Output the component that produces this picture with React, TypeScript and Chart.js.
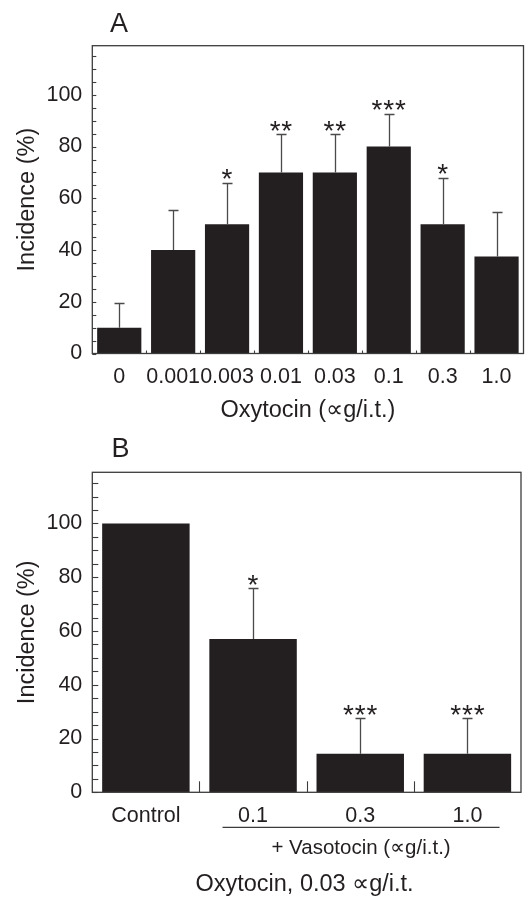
import React, { useEffect, useRef } from 'react';
import { Chart, registerables } from 'chart.js';

Chart.register(...registerables);

// ---- Data ----
const doseLabelsA = ['0', '0.001', '0.003', '0.01', '0.03', '0.1', '0.3', '1.0'];
const incidenceA = [10, 40, 50, 70, 70, 80, 50, 37.5];
const errorA = [9.5, 15.6, 16, 14.7, 14.7, 12.7, 17.9, 17.1];
const starsA = ['', '', '*', '**', '**', '***', '*', ''];

const groupLabelsB = ['Control', '0.1', '0.3', '1.0'];
const incidenceB = [100, 57, 14.3, 14.3];
const errorB = [0, 18.8, 13.3, 13.3];
const starsB = ['', '*', '***', '***'];

const yMax = 119;
const yMinorStep = 5;
const yLabelStep = 20;

const FONT = '"Liberation Sans", Arial, Helvetica, sans-serif';
const INK = '#231f20';
const LINE = '#3c3c3c';
const TICK_SIZE = 21.5;
const TITLE_SIZE = 23.5;

type DecorOpts = {
  letter: string;
  letterX: number;
  letterBase: number;
  errors: number[];
  stars: string[];
  yTickLen: number;
  xTickLen: number;
  extra?: (ctx: CanvasRenderingContext2D, chart: any) => void;
};

function makeDecor(o: DecorOpts) {
  return {
    id: 'decor',
    afterDatasetsDraw(chart: any) {
      const ctx: CanvasRenderingContext2D = chart.ctx;
      const { left, right, top, bottom } = chart.chartArea;
      const xs = chart.scales.x;
      const ys = chart.scales.y;
      const values: number[] = chart.data.datasets[0].data;
      ctx.save();
      // frame
      ctx.strokeStyle = LINE;
      ctx.lineWidth = 1.3;
      ctx.strokeRect(left, top, right - left, bottom - top);
      // y minor ticks (inward)
      ctx.lineWidth = 1.1;
      for (let v = 0; v <= yMax; v += yMinorStep) {
        const y = Math.round(ys.getPixelForValue(v)) + 0.5;
        ctx.beginPath();
        ctx.moveTo(left, y);
        ctx.lineTo(left + o.yTickLen, y);
        ctx.stroke();
      }
      // x ticks at category boundaries (upward)
      for (let i = 0; i < values.length - 1; i++) {
        const x = Math.round((xs.getPixelForValue(i) + xs.getPixelForValue(i + 1)) / 2) + 0.5;
        ctx.beginPath();
        ctx.moveTo(x, bottom);
        ctx.lineTo(x, bottom - o.xTickLen);
        ctx.stroke();
      }
      // error bars
      ctx.strokeStyle = '#4a4a4a';
      ctx.lineWidth = 1.3;
      values.forEach((v, i) => {
        const e = o.errors[i];
        if (!e) return;
        const x = Math.round(xs.getPixelForValue(i)) + 0.5;
        const y0 = ys.getPixelForValue(v);
        const y1 = Math.round(ys.getPixelForValue(v + e)) + 0.5;
        ctx.beginPath();
        ctx.moveTo(x, y0);
        ctx.lineTo(x, y1);
        ctx.moveTo(x - 5, y1);
        ctx.lineTo(x + 5, y1);
        ctx.stroke();
      });
      // significance stars
      ctx.fillStyle = INK;
      ctx.font = `28px ${FONT}`;
      ctx.textAlign = 'center';
      ctx.textBaseline = 'alphabetic';
      values.forEach((v, i) => {
        const s = o.stars[i];
        if (!s) return;
        const x = xs.getPixelForValue(i);
        const capY = ys.getPixelForValue(v + (o.errors[i] || 0));
        const m = ctx.measureText('*');
        const asc = m.actualBoundingBoxAscent;
        const desc = m.actualBoundingBoxDescent;
        const center = capY - 8.5;
        const base = center + (asc - desc) / 2;
        const step = 11.7;
        const n = s.length;
        for (let k = 0; k < n; k++) {
          ctx.fillText('*', x + (k - (n - 1) / 2) * step, base);
        }
      });
      // panel letter
      ctx.font = `27px ${FONT}`;
      ctx.textAlign = 'left';
      ctx.fillText(o.letter, o.letterX, o.letterBase);
      if (o.extra) o.extra(ctx, chart);
      ctx.restore();
    },
  };
}

function yScaleOpts(width: number) {
  return {
    min: 0,
    max: yMax,
    grid: { display: false, drawTicks: false },
    border: { display: false },
    ticks: {
      stepSize: yMinorStep,
      autoSkip: false,
      padding: 10,
      color: INK,
      font: { size: TICK_SIZE, family: FONT },
      callback: (v: any) => (Number(v) % yLabelStep === 0 ? String(v) : ''),
    },
    title: {
      display: true,
      text: 'Incidence (%)',
      color: INK,
      font: { size: TITLE_SIZE, family: FONT },
      padding: { top: 13.5, bottom: 0 },
    },
    afterFit: (s: any) => {
      s.width = width;
    },
  };
}

function ChartA() {
  const ref = useRef<HTMLCanvasElement | null>(null);
  useEffect(() => {
    if (!ref.current) return;
    const chart = new Chart(ref.current, {
      type: 'bar',
      data: {
        labels: doseLabelsA,
        datasets: [
          {
            data: incidenceA,
            backgroundColor: INK,
            borderWidth: 0,
            barPercentage: 0.82,
            categoryPercentage: 1,
          },
        ],
      },
      options: {
        responsive: false,
        animation: false,
        events: [],
        layout: { padding: { left: 0, right: 3.5, top: 45.7, bottom: 0 } },
        plugins: { legend: { display: false }, tooltip: { enabled: false } },
        scales: {
          x: {
            grid: { display: false, drawTicks: false },
            border: { display: false },
            ticks: {
              autoSkip: false,
              maxRotation: 0,
              padding: 10.6,
              color: INK,
              font: { size: TICK_SIZE, family: FONT },
            },
            title: {
              display: true,
              text: 'Oxytocin (∝g/i.t.)',
              color: INK,
              font: { size: TITLE_SIZE, family: FONT },
              padding: { top: 0, bottom: 5 },
            },
            afterFit: (s: any) => {
              s.height = 76.5;
            },
          },
          y: yScaleOpts(92.3) as any,
        },
      },
      plugins: [
        makeDecor({
          letter: 'A',
          letterX: 110,
          letterBase: 32.3,
          errors: errorA,
          stars: starsA,
          yTickLen: 4,
          xTickLen: 3,
        }),
      ],
    } as any);
    return () => chart.destroy();
  }, []);
  return <canvas ref={ref} width={527} height={430} style={{ display: 'block' }} />;
}

function ChartB() {
  const ref = useRef<HTMLCanvasElement | null>(null);
  useEffect(() => {
    if (!ref.current) return;
    const chart = new Chart(ref.current, {
      type: 'bar',
      data: {
        labels: groupLabelsB,
        datasets: [
          {
            data: incidenceB,
            backgroundColor: INK,
            borderWidth: 0,
            barPercentage: 0.816,
            categoryPercentage: 1,
          },
        ],
      },
      options: {
        responsive: false,
        animation: false,
        events: [],
        layout: { padding: { left: 0, right: 6, top: 42.3, bottom: 0 } },
        plugins: { legend: { display: false }, tooltip: { enabled: false } },
        scales: {
          x: {
            grid: { display: false, drawTicks: false },
            border: { display: false },
            ticks: {
              autoSkip: false,
              maxRotation: 0,
              padding: 10.5,
              color: INK,
              font: { size: TICK_SIZE, family: FONT },
            },
            afterFit: (s: any) => {
              s.height = 104.7;
            },
          },
          y: yScaleOpts(92.3) as any,
        },
      },
      plugins: [
        makeDecor({
          letter: 'B',
          letterX: 111.5,
          letterBase: 26.7,
          errors: errorB,
          stars: starsB,
          yTickLen: 6,
          xTickLen: 11,
          extra: (ctx, ch) => {
            const xs = ch.scales.x;
            const w = xs.getPixelForValue(1) - xs.getPixelForValue(0);
            const x1 = xs.getPixelForValue(1) - 0.285 * w;
            const x2 = xs.getPixelForValue(3) + 0.3 * w;
            const yLine = 397.3;
            ctx.strokeStyle = LINE;
            ctx.lineWidth = 1.2;
            ctx.beginPath();
            ctx.moveTo(x1, yLine);
            ctx.lineTo(x2, yLine);
            ctx.stroke();
            ctx.fillStyle = INK;
            ctx.textAlign = 'center';
            ctx.textBaseline = 'middle';
            ctx.font = `20.5px ${FONT}`;
            ctx.fillText('+ Vasotocin (∝g/i.t.)', (x1 + x2) / 2, 418.3);
            ctx.font = `${TITLE_SIZE}px ${FONT}`;
            ctx.fillText('Oxytocin, 0.03 ∝g/i.t.', 304.5, 455);
          },
        }),
      ],
    } as any);
    return () => chart.destroy();
  }, []);
  return <canvas ref={ref} width={527} height={467} style={{ display: 'block' }} />;
}

export default function App() {
  return (
    <div
      style={{
        position: 'absolute',
        left: 0,
        top: 0,
        width: 527,
        height: 897,
        background: '#ffffff',
        overflow: 'hidden',
      }}
    >
      <ChartA />
      <ChartB />
    </div>
  );
}
